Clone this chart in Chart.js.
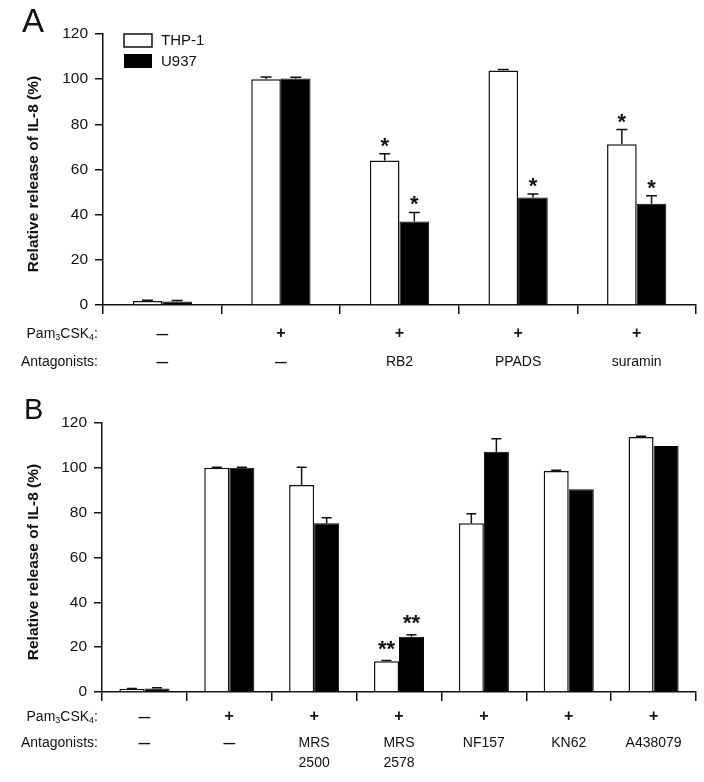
<!DOCTYPE html>
<html>
<head>
<meta charset="utf-8">
<script src="https://cdn.jsdelivr.net/npm/chart.js@4.4.0/dist/chart.umd.min.js"></script>
<style>
body { margin: 0; background: #fff; }
#wrap { position: relative; width: 704px; height: 782px; }
canvas { position: absolute; left: 0; }
</style>
</head>
<body>
<div id="wrap">
<canvas id="chartA" width="704" height="391" style="top:0"></canvas>
<canvas id="chartB" width="704" height="391" style="top:391px"></canvas>
</div>
<script>
var FONT = '"Liberation Sans", Arial, Helvetica, sans-serif';

// panel A
var pamA = ['–', '+', '+', '+', '+'];
var antagA = [['–'], ['–'], ['RB2'], ['PPADS'], ['suramin']];
var thp1A = [1.8, 100, 64, 103.8, 71.2];
var thp1ErrA = [0.3, 1.0, 3, 0.5, 6.5];
var u937A = [1.5, 100.3, 37, 47.6, 44.8];
var u937ErrA = [0.5, 0.5, 4, 1.6, 3.6];
var thp1StarsA = ['', '', '*', '', '*'];
var u937StarsA = ['', '', '*', '*', '*'];

// panel B
var pamB = ['–', '+', '+', '+', '+', '+', '+'];
var antagB = [['–'], ['–'], ['MRS', '2500'], ['MRS', '2578'], ['NF157'], ['KN62'], ['A438079']];
var thp1B = [1.4, 100, 92.3, 13.7, 75.3, 98.6, 113.8];
var thp1ErrB = [0.2, 0.3, 8, 0.3, 4.2, 0.3, 0.3];
var u937B = [1.6, 100, 75.3, 24.6, 107.2, 90.5, 109.7];
var u937ErrB = [0.3, 0.3, 2.4, 0.9, 5.8, 0, 0];
var thp1StarsB = ['', '', '', '**', '', '', ''];
var u937StarsB = ['', '', '', '**', '', '', ''];

var yTicks = [0, 20, 40, 60, 80, 100, 120];

Chart.defaults.font.family = FONT;
Chart.defaults.color = '#111';

function drawPam(ctx, right, y) {
    var parts = [['Pam', 14, 0], ['3', 9, 4], ['CSK', 14, 0], ['4', 9, 4], [':', 14, 0]];
    var w = 0;
    parts.forEach(function (p) {
        ctx.font = p[1] + 'px ' + FONT;
        w += ctx.measureText(p[0]).width;
    });
    var x = right - w;
    ctx.textAlign = 'left';
    parts.forEach(function (p) {
        ctx.font = p[1] + 'px ' + FONT;
        ctx.fillText(p[0], x, y + p[2]);
        x += ctx.measureText(p[0]).width;
    });
}

var overlay = {
    id: 'overlay',
    afterDatasetsDraw: function (chart, args, o) {
        var ctx = chart.ctx, ys = chart.scales.y;
        o.errors.forEach(function (errs, i) {
            var meta = chart.getDatasetMeta(i);
            var vals = chart.data.datasets[i].data;
            meta.data.forEach(function (bar, j) {
                var top = ys.getPixelForValue(vals[j] + errs[j]);
                ctx.save();
                if (errs[j] > 0) {
                    ctx.strokeStyle = '#111';
                    ctx.lineWidth = 1.5;
                    ctx.beginPath();
                    ctx.moveTo(bar.x, bar.y);
                    ctx.lineTo(bar.x, top);
                    ctx.moveTo(bar.x - o.cap, top);
                    ctx.lineTo(bar.x + o.cap, top);
                    ctx.stroke();
                }
                var s = o.stars[i][j];
                if (s) {
                    ctx.fillStyle = '#111';
                    ctx.font = 'bold 22px ' + FONT;
                    ctx.textAlign = 'center';
                    ctx.textBaseline = 'alphabetic';
                    ctx.fillText(s, bar.x, top - o.starGap + 12);
                }
                ctx.restore();
            });
        });
    },
    afterDraw: function (chart, args, o) {
        var ctx = chart.ctx, xs = chart.scales.x;
        ctx.save();
        ctx.fillStyle = '#111';
        // panel letter
        ctx.font = o.letterSize + 'px ' + FONT;
        ctx.textAlign = 'left';
        ctx.textBaseline = 'alphabetic';
        ctx.fillText(o.letter, o.letterX, o.letterY);
        // y title
        ctx.save();
        ctx.translate(34, o.titleY);
        ctx.rotate(-Math.PI / 2);
        ctx.font = 'bold 15.5px ' + FONT;
        ctx.textAlign = 'center';
        ctx.textBaseline = 'middle';
        ctx.fillText('Relative release of IL-8 (%)', 0, 0);
        ctx.restore();
        // legend
        if (o.legend) {
            ctx.lineWidth = 1.5;
            ctx.strokeStyle = '#111';
            ctx.fillStyle = '#fff';
            ctx.fillRect(124, 34, 28, 13);
            ctx.strokeRect(124, 34, 28, 13);
            ctx.fillStyle = '#000';
            ctx.fillRect(124, 54, 28, 14);
            ctx.fillStyle = '#111';
            ctx.font = '15px ' + FONT;
            ctx.textAlign = 'left';
            ctx.textBaseline = 'middle';
            ctx.fillText(chart.data.datasets[0].label, 161, 41);
            ctx.fillText(chart.data.datasets[1].label, 161, 62);
        }
        // treatment rows
        ctx.textBaseline = 'middle';
        drawPam(ctx, 98, o.pamY);
        ctx.font = '14px ' + FONT;
        ctx.textAlign = 'right';
        ctx.fillText('Antagonists:', 98, o.antagY);
        ctx.textAlign = 'center';
        o.pam.forEach(function (t, j) {
            var x = xs.getPixelForValue(j);
            ctx.font = (t === '+' ? 'bold 16px ' : '21px ') + FONT;
            ctx.fillText(t, x, o.pamY);
        });
        o.antag.forEach(function (lines, j) {
            var x = xs.getPixelForValue(j);
            lines.forEach(function (t, k) {
                ctx.font = (t === '–' ? '21px ' : '14px ') + FONT;
                ctx.fillText(t, x, o.antagY + k * 20);
            });
        });
        ctx.restore();
    }
};

function createPanel(canvas, p) {
    return new Chart(canvas, {
        type: 'bar',
        data: {
            labels: p.pam.map(function (t, j) { return 'c' + j; }),
            datasets: [{
                label: 'THP-1',
                data: p.thp1,
                backgroundColor: '#ffffff',
                borderColor: '#111',
                borderWidth: 1.5,
                categoryPercentage: p.catPct,
                barPercentage: 1.0
            }, {
                label: 'U937',
                data: p.u937,
                backgroundColor: '#000000',
                borderColor: '#000000',
                borderWidth: 1,
                categoryPercentage: p.catPct,
                barPercentage: 1.0
            }]
        },
        options: {
            responsive: false,
            animation: false,
            layout: { padding: { left: 0, right: 8, top: p.padTop, bottom: p.padBottom } },
            scales: {
                x: {
                    offset: true,
                    ticks: { display: false },
                    grid: { offset: true, drawOnChartArea: false, tickLength: 9, color: '#111', lineWidth: 1.5 },
                    border: { color: '#111', width: 1.5 },
                    afterFit: function (s) { s.height = 10; }
                },
                y: {
                    min: 0,
                    max: 120,
                    afterBuildTicks: function (s) { s.ticks = yTicks.map(function (v) { return { value: v }; }); },
                    ticks: { padding: 7, font: { size: 15.5 }, color: '#111' },
                    grid: { drawOnChartArea: false, tickLength: 8, color: '#111', lineWidth: 1.5 },
                    border: { color: '#111', width: 1.5 },
                    afterFit: function (s) { s.width = p.yWidth; }
                }
            },
            plugins: {
                legend: { display: false },
                tooltip: { enabled: false },
                overlay: p.overlay
            }
        },
        plugins: [overlay]
    });
}

createPanel(document.getElementById('chartA'), {
    pam: pamA, thp1: thp1A, u937: u937A, catPct: 0.5,
    padTop: 34, padBottom: 76, yWidth: 103,
    overlay: {
        errors: [thp1ErrA, u937ErrA], stars: [thp1StarsA, u937StarsA],
        cap: 5.5, starGap: 13,
        letter: 'A', letterX: 22, letterY: 32, letterSize: 33,
        titleY: 174, legend: true,
        pam: pamA, antag: antagA, pamY: 334, antagY: 362
    }
});

createPanel(document.getElementById('chartB'), {
    pam: pamB, thp1: thp1B, u937: u937B, catPct: 0.59,
    padTop: 32, padBottom: 80, yWidth: 102,
    overlay: {
        errors: [thp1ErrB, u937ErrB], stars: [thp1StarsB, u937StarsB],
        cap: 5, starGap: 17,
        letter: 'B', letterX: 24, letterY: 28, letterSize: 29,
        titleY: 171, legend: false,
        pam: pamB, antag: antagB, pamY: 326, antagY: 352
    }
});
</script>
</body>
</html>
